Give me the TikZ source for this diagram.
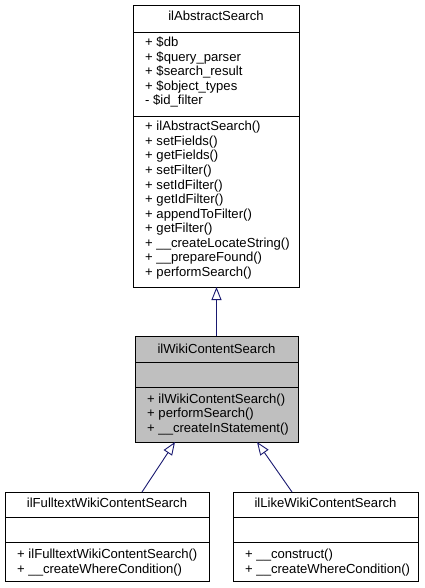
\documentclass[tikz,border=0pt]{standalone}
\usepackage{fontspec}
\setmainfont{Liberation Sans}
\usetikzlibrary{arrows.meta}
\definecolor{edgeblue}{HTML}{191970}
\definecolor{boxgray}{HTML}{BFBFBF}
\tikzset{
  classbox/.style={draw=black, line width=0.9pt, anchor=north west, inner sep=0pt},
  sepline/.style={draw=black, line width=0.9pt},
  mtext/.style={anchor=base west, inner sep=0pt, font=\fontsize{13.1}{14}\selectfont},
  ttext/.style={anchor=base, inner sep=0pt, font=\fontsize{13.1}{14}\selectfont},
  inherit/.style={draw=edgeblue, line width=0.9pt, -{Triangle[open, length=13pt, width=10pt]}}
}
\begin{document}
\begin{tikzpicture}[x=1pt, y=-1pt]
\useasboundingbox (0,0) rectangle (424,588);
% ilAbstractSearch
\node[classbox, minimum width=166pt, minimum height=282pt] (abs) at (133,5) {};
\draw[sepline] (133,32) -- (299,32);
\draw[sepline] (133,116) -- (299,116);
\node[ttext] (absT) at (216,21) {ilAbstractSearch};
\foreach \t [count=\i from 0] in {+ \$db, + \$query\_parser, + \$search\_result, + \$object\_types, - \$id\_filter}
  \node[mtext] (absA\i) at (145,{47+14.5*\i}) {\t};
\foreach \t [count=\i from 0] in {+ ilAbstractSearch(), + setFields(), + getFields(), + setFilter(), + setIdFilter(), + getIdFilter(), + appendToFilter(), + getFilter(), + \_\_createLocateString(), + \_\_prepareFound(), + performSearch()}
  \node[mtext] (absM\i) at (145,{131+14.5*\i}) {\t};
% ilWikiContentSearch
\node[classbox, fill=boxgray, minimum width=163pt, minimum height=106pt] (wiki) at (135,336) {};
\draw[sepline] (135,362) -- (298,362);
\draw[sepline] (135,387) -- (298,387);
\node[ttext] (wikiT) at (216.5,353) {ilWikiContentSearch};
\foreach \t [count=\i from 0] in {+ ilWikiContentSearch(), + performSearch(), + \_\_createInStatement()}
  \node[mtext] (wikiM\i) at (147,{403+14.5*\i}) {\t};
% ilFulltextWikiContentSearch
\node[classbox, minimum width=204pt, minimum height=89pt] (flt) at (5,492) {};
\draw[sepline] (5,517) -- (209,517);
\draw[sepline] (5,542) -- (209,542);
\node[ttext] (fltT) at (107,507) {ilFulltextWikiContentSearch};
\node[mtext] (fltM0) at (17,558) {+ ilFulltextWikiContentSearch()};
\node[mtext] (fltM1) at (17,573) {+ \_\_createWhereCondition()};
% ilLikeWikiContentSearch
\node[classbox, minimum width=185pt, minimum height=89pt] (like) at (233,492) {};
\draw[sepline] (233,517) -- (418,517);
\draw[sepline] (233,542) -- (418,542);
\node[ttext] (likeT) at (325.5,507) {ilLikeWikiContentSearch};
\node[mtext] (likeM0) at (245,558) {+ \_\_construct()};
\node[mtext] (likeM1) at (245,573) {+ \_\_createWhereCondition()};
% connectors
\coordinate (absB) at (216.5,287);
\coordinate (wikiTop) at (216.5,336);
\coordinate (wikiBL) at (175,442);
\coordinate (wikiBR) at (257,442);
\coordinate (fltTop) at (142,492);
\coordinate (likeTop) at (292,492);
\draw[inherit] (wikiTop) -- (absB);
\draw[inherit] (fltTop) -- (wikiBL);
\draw[inherit] (likeTop) -- (wikiBR);
\end{tikzpicture}
\end{document}
